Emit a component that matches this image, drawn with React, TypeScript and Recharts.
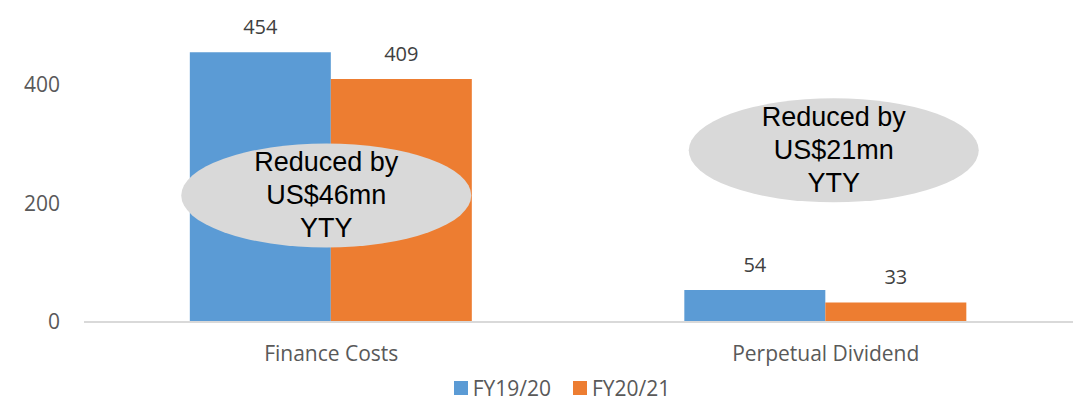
import { BarChart, Bar, XAxis, YAxis, Legend, LabelList, ReferenceDot } from 'recharts';

const categories = ['Finance Costs', 'Perpetual Dividend'];
const fy1920 = [454, 54];
const fy2021 = [409, 33];
const yTicks = [0, 200, 400];

const notes = [
  { category: 'Finance Costs', y: 213, dx: -5, lines: ['Reduced by', 'US$46mn', 'YTY'] },
  { category: 'Perpetual Dividend', y: 289, dx: 8, lines: ['Reduced by', 'US$21mn', 'YTY'] },
];

const data = categories.map((name, i) => ({ name, fy1920: fy1920[i], fy2021: fy2021[i] }));

const font = '"Open Sans", sans-serif';

function Bubble(props: any) {
  const { cx, cy, lines, dx } = props;
  if (cx == null || cy == null) return null;
  const x = cx + dx;
  return (
    <g>
      <ellipse cx={x} cy={cy} rx={145} ry={52} fill="#d9d9d9" />
      {lines.map((t: string, i: number) => (
        <text
          key={t}
          x={x}
          y={cy + (i - 1) * 33}
          textAnchor="middle"
          dominantBaseline="central"
          fontFamily='"Liberation Sans", Arial, sans-serif'
          fontSize={27}
          fill="#000"
        >
          {t}
        </text>
      ))}
    </g>
  );
}

function ValueLabel(props: any) {
  const { x, y, width, value } = props;
  return (
    <text
      x={x + width / 2}
      y={y - 18}
      textAnchor="middle"
      fontFamily={font}
      fontSize={20}
      fill="#404040"
    >
      {value}
    </text>
  );
}

function LegendContent() {
  const items = [
    { label: 'FY19/20', color: '#5b9bd5' },
    { label: 'FY20/21', color: '#ed7d31' },
  ];
  return (
    <div style={{ display: 'flex', justifyContent: 'center', gap: 22, fontFamily: font, fontSize: 21, color: '#595959' }}>
      {items.map((it) => (
        <div key={it.label} style={{ display: 'flex', alignItems: 'center', gap: 5 }}>
          <span style={{ width: 14, height: 14, background: it.color, display: 'inline-block' }} />
          <span>{it.label}</span>
        </div>
      ))}
    </div>
  );
}

export default function App() {
  return (
    <div style={{ position: 'absolute', left: 0, top: 0, background: '#fff' }}>
      <BarChart width={1077} height={404} data={data} margin={{ top: 25, right: 4, left: 0, bottom: 0 }} barCategoryGap="21.4%" barGap={0}>
        <XAxis
          dataKey="name"
          axisLine={{ stroke: '#d9d9d9', strokeWidth: 2 }}
          tickLine={false}
          tick={{ fontFamily: font, fontSize: 21, fill: '#595959' }}
          tickMargin={18}
          height={54}
        />
        <YAxis
          domain={[0, 500]}
          ticks={yTicks}
          axisLine={false}
          tickLine={false}
          tickSize={0}
          tickMargin={24}
          width={84}
          tick={{ fontFamily: font, fontSize: 21, fill: '#595959' }}
        />
        <Legend verticalAlign="bottom" content={<LegendContent />} wrapperStyle={{ left: 0, width: 1124, bottom: 2 }} />
        <Bar dataKey="fy1920" name="FY19/20" fill="#5b9bd5" isAnimationActive={false}>
          <LabelList dataKey="fy1920" content={<ValueLabel />} />
        </Bar>
        <Bar dataKey="fy2021" name="FY20/21" fill="#ed7d31" isAnimationActive={false}>
          <LabelList dataKey="fy2021" content={<ValueLabel />} />
        </Bar>
        {notes.map((n) => (
          <ReferenceDot
            key={n.category}
            x={n.category}
            y={n.y}
            ifOverflow="visible"
            shape={(p: any) => <Bubble {...p} lines={n.lines} dx={n.dx} />}
          />
        ))}
      </BarChart>
    </div>
  );
}
